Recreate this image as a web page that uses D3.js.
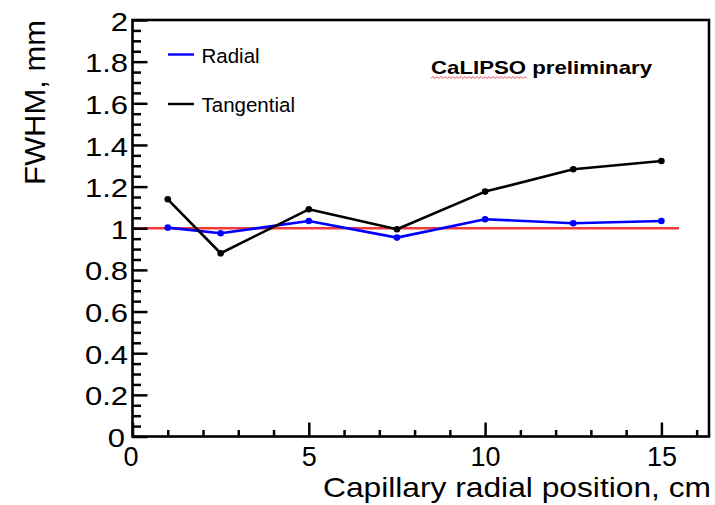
<!DOCTYPE html>
<html>
<head>
<meta charset="utf-8">
<script src="https://cdn.jsdelivr.net/npm/d3@7"></script>
<style>
  html, body { margin: 0; padding: 0; background: #fff; }
  svg { display: block; font-family: "Liberation Sans", Arial, sans-serif; }
</style>
</head>
<body>
<svg id="chart" width="715" height="505"></svg>
<script>
// ---- data ----
const positions = [1, 2.5, 5, 7.5, 10, 12.5, 15];
const radial = [1.003, 0.976, 1.035, 0.955, 1.043, 1.024, 1.035];
const tangential = [1.139, 0.880, 1.091, 0.995, 1.176, 1.283, 1.323];
const refLineX = [0, 15.5];
const refLineY = [1, 1];
const xMajorTicks = [0, 5, 10, 15];
const xMinorTicks = [1, 2, 3, 4, 6, 7, 8, 9, 11, 12, 13, 14, 16];
const yMajorTicks = [0, 0.2, 0.4, 0.6, 0.8, 1, 1.2, 1.4, 1.6, 1.8, 2];
const yMinorTicks = d3.range(0, 2.0001, 0.05).filter(v => Math.abs(v / 0.2 - Math.round(v / 0.2)) > 1e-6);
const seriesNames = ["Radial", "Tangential"];
const seriesColors = ["#0000ff", "#000000"];

// ---- layout ----
const svg = d3.select("#chart");
const mLeft = 132.5, mRight = 709, mTop = 20, mBottom = 436.5;
const x = d3.scaleLinear().domain([0, 16.35]).range([mLeft, mRight]);
const y = d3.scaleLinear().domain([0, 2]).range([mBottom, mTop]);
const sx = 1.17;

// reference line
svg.append("path")
  .datum(refLineX.map((v, i) => [v, refLineY[i]]))
  .attr("fill", "none").attr("stroke", "#f23c3c").attr("stroke-width", 2.4)
  .attr("d", d3.line().x(d => x(d[0])).y(d => y(d[1])));

// series
const series = [radial, tangential];
series.forEach((vals, si) => {
  const pts = positions.map((p, i) => [p, vals[i]]);
  svg.append("path").datum(pts)
    .attr("fill", "none").attr("stroke", seriesColors[si]).attr("stroke-width", 2.6)
    .attr("stroke-linejoin", "round")
    .attr("d", d3.line().x(d => x(d[0])).y(d => y(d[1])));
  svg.append("g").selectAll("circle").data(pts).join("circle")
    .attr("cx", d => x(d[0])).attr("cy", d => y(d[1])).attr("r", 3.3)
    .attr("fill", seriesColors[si]);
});

// axes
function styleAxis(g) {
  g.select(".domain").remove();
  g.selectAll(".tick line").attr("stroke", "#000").attr("stroke-width", 2.5);
}
// y minor
svg.append("g").attr("transform", `translate(${mLeft},0)`)
  .call(d3.axisLeft(y).tickValues(yMinorTicks).tickSize(-8.5).tickFormat(""))
  .call(styleAxis);
// y major
const yAx = svg.append("g").attr("transform", `translate(${mLeft},0)`)
  .call(d3.axisLeft(y).tickValues(yMajorTicks).tickSize(-15).tickPadding(4.5).tickFormat(d => String(+d.toFixed(1))))
  .call(styleAxis);
yAx.selectAll(".tick text")
  .attr("font-size", 26.5).attr("fill", "#000")
  .attr("font-family", "Liberation Sans, Arial, sans-serif")
  .attr("dy", "0.38em")
  .attr("x", d => (d === 0 ? -7.5 : -4.5) / sx)
  .attr("transform", `scale(${sx},1)`);

// x minor
svg.append("g").attr("transform", `translate(0,${mBottom})`)
  .call(d3.axisBottom(x).tickValues(xMinorTicks).tickSize(-6.5).tickFormat(""))
  .call(styleAxis);
// x major
const xAx = svg.append("g").attr("transform", `translate(0,${mBottom})`)
  .call(d3.axisBottom(x).tickValues(xMajorTicks).tickSize(-14).tickPadding(10))
  .call(styleAxis);
xAx.selectAll(".tick text")
  .attr("font-size", 27).attr("fill", "#000")
  .attr("font-family", "Liberation Sans, Arial, sans-serif")
  .attr("dy", "0.71em")
  .attr("x", d => (d === 0 ? -2 : 0));

// frame
svg.append("rect")
  .attr("x", mLeft).attr("y", mTop)
  .attr("width", mRight - mLeft).attr("height", mBottom - mTop)
  .attr("fill", "none").attr("stroke", "#000").attr("stroke-width", 2.6);

// axis titles
svg.append("text")
  .attr("x", 323).attr("y", 497)
  .attr("font-size", 27.5).attr("textLength", 388).attr("lengthAdjust", "spacingAndGlyphs")
  .attr("fill", "#000")
  .text("Capillary radial position, cm");
svg.append("text")
  .attr("transform", "translate(45,185) rotate(-90)")
  .attr("font-size", 30).attr("textLength", 165).attr("lengthAdjust", "spacingAndGlyphs")
  .attr("fill", "#000")
  .text("FWHM, mm");

// legend
const legendY = [54.5, 104];
seriesNames.forEach((name, i) => {
  svg.append("line")
    .attr("x1", 168).attr("x2", 194).attr("y1", legendY[i]).attr("y2", legendY[i])
    .attr("stroke", seriesColors[i]).attr("stroke-width", 2.4);
  svg.append("text")
    .attr("x", 201.5).attr("y", legendY[i] + 8)
    .attr("font-size", 20.5).attr("fill", "#000")
    .text(name);
});

// annotation
svg.append("text")
  .attr("x", 431).attr("y", 73.5)
  .attr("font-size", 19).attr("font-weight", "bold")
  .attr("textLength", 221).attr("lengthAdjust", "spacingAndGlyphs")
  .attr("fill", "#000")
  .text("CaLIPSO preliminary");
// spell-check style wavy underline
const wave = [];
for (let px = 431, k = 0; px <= 527; px += 2, k++) wave.push([px, 77.5 + (k % 2 ? -1 : 1)]);
svg.append("path")
  .attr("d", d3.line()(wave))
  .attr("fill", "none").attr("stroke", "#e8383d").attr("stroke-width", 0.9);
</script>
</body>
</html>
